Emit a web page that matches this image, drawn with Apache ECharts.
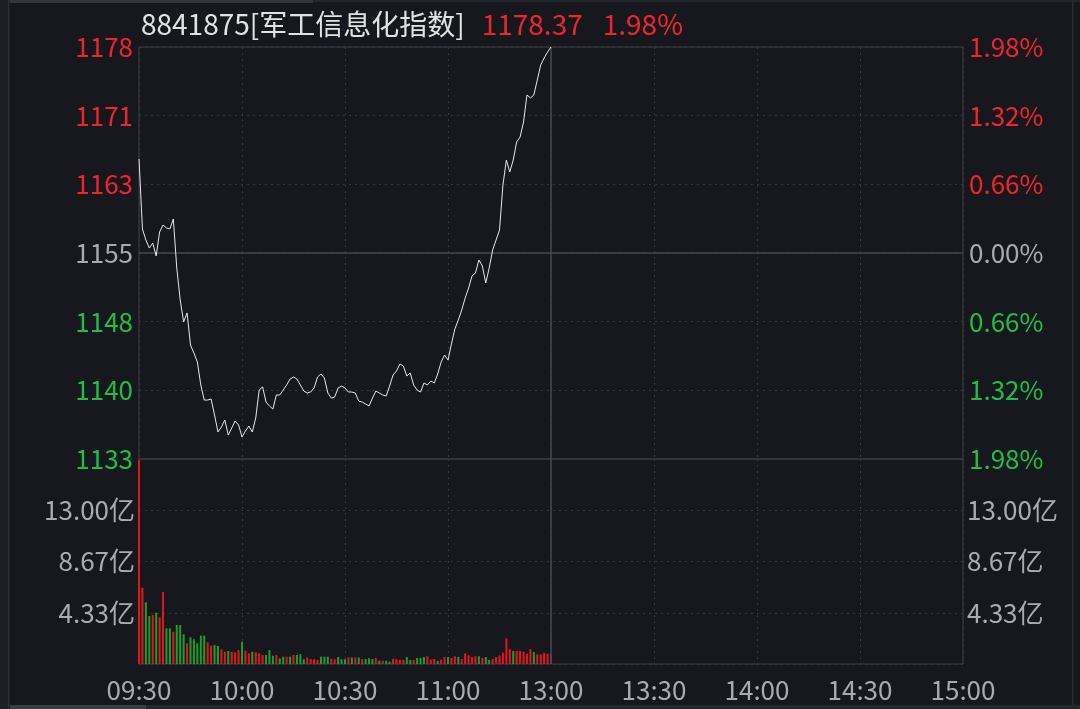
<!DOCTYPE html>
<html>
<head>
<meta charset="utf-8">
<script src="https://cdn.jsdelivr.net/npm/echarts@6/dist/echarts.min.js"></script>
<style>
html,body{margin:0;padding:0;background:#16181d;}
#c{width:1080px;height:709px;}
</style>
</head>
<body>
<div id="c"></div>
<script>
// ---- data ----
const indexCode = '8841875';
const indexName = '军工信息化指数';
const lastPrice = 1178.37;
const lastChangePct = 1.98;
const preClose = 1155.49;
const xTickLabels = ['09:30','10:00','10:30','11:00','13:00','13:30','14:00','14:30','15:00'];
const totalMinutes = 240;
// minute prices 09:30 .. 11:30 (121 points)
const prices = [
1165.93,1158.16,1156.93,1156.04,1156.60,1155.16,1157.82,1158.60,1158.27,1158.16,
1159.27,1153.82,1150.27,1147.83,1148.83,1145.27,1144.38,1143.38,1140.83,1139.16,
1139.16,1139.27,1137.50,1135.61,1136.16,1136.94,1135.27,1136.05,1136.83,1136.39,
1135.05,1135.72,1136.27,1135.61,1137.16,1140.27,1140.61,1138.94,1138.50,1138.16,
1139.72,1139.72,1140.27,1140.83,1141.49,1141.72,1141.49,1140.83,1140.16,1139.94,
1140.05,1140.50,1141.72,1142.05,1141.61,1139.94,1139.38,1139.50,1140.50,1140.72,
1140.50,1140.05,1140.05,1139.94,1139.05,1138.94,1138.72,1138.50,1139.38,1140.16,
1139.94,1139.72,1139.61,1140.72,1141.94,1142.38,1143.16,1142.94,1141.83,1142.16,
1140.83,1140.27,1140.05,1141.05,1140.83,1141.27,1141.05,1142.05,1143.38,1144.16,
1143.60,1145.38,1147.05,1148.05,1149.16,1150.49,1151.60,1152.94,1153.27,1154.71,
1154.05,1152.16,1153.82,1155.82,1156.93,1158.04,1163.04,1165.82,1164.49,1165.82,
1167.82,1168.37,1170.04,1173.04,1172.71,1173.04,1174.70,1176.37,1177.15,1177.81,
1178.37
];
// minute turnover, 亿
const volumes = [
17.25,6.45,5.22,4.06,4.14,4.34,3.95,6.09,3.02,3.02,
2.73,3.30,3.30,2.51,1.75,2.26,2.09,1.75,2.40,2.40,
1.83,1.55,1.61,1.52,1.24,1.04,1.10,1.04,0.99,1.18,
1.89,1.13,0.90,1.04,0.99,0.90,0.76,0.76,1.18,0.70,
0.76,0.48,0.62,0.62,0.62,0.76,0.76,0.82,0.40,0.54,
0.42,0.40,0.34,0.62,0.62,0.62,0.45,0.40,0.59,0.40,
0.40,0.55,0.55,0.57,0.55,0.42,0.42,0.48,0.42,0.51,
0.28,0.28,0.28,0.20,0.42,0.42,0.34,0.34,0.59,0.34,
0.34,0.51,0.51,0.59,0.65,0.37,0.42,0.25,0.37,0.59,
0.59,0.51,0.65,0.59,0.42,0.90,0.73,0.59,0.65,0.65,
0.51,0.59,0.34,0.42,0.59,0.73,0.96,2.17,1.24,1.10,
1.10,1.10,1.04,0.87,1.27,1.01,0.82,0.82,0.96,0.87,
0.80
];
// 1 = up (red), 0 = down (green)
const volUp = [
1,1,0,0,1,0,1,1,0,0,
1,0,0,0,1,0,0,0,0,0,
1,1,0,0,1,1,0,1,1,1,
0,1,1,0,1,1,1,0,0,0,
1,0,0,1,0,1,0,0,0,1,
1,1,1,0,0,0,1,1,0,0,
0,1,0,1,0,1,0,0,0,1,
0,1,0,0,1,1,1,1,0,0,
1,0,0,0,1,1,1,0,1,1,
0,1,1,0,1,1,1,1,1,0,
1,0,0,1,1,1,1,1,1,0,
1,1,1,1,1,0,1,1,1,1,
1
];
const pctRange = 1.98, pctStep = 0.66;
const volMax = 52/3, volStep = 13/3;

// ---- styles ----
const RED = '#f0252c', GREEN = '#1dbf47', GRAY = '#a9abae';
const FONT = '"Noto Sans CJK SC", "Noto Sans", sans-serif';
const GRID_LINE = '#34373d', BORDER = '#3d4046';

const cats = [];
for (let i = 0; i <= totalMinutes; i++) cats.push(String(i));
const pctData = prices.map(p => +(((p / preClose) - 1) * 100).toFixed(4));
const volData = volumes.map((v, i) => ({value: v, itemStyle: {color: volUp[i] ? '#e3161c' : '#1b9f2c'}}));
const tickIdx = i => i % 30 === 0;
const pctColor = v => Math.abs(v) < 1e-6 ? GRAY : (v > 0 ? RED : GREEN);

const L = 139, R = 1080 - 963, T = 47;
const grids = [
  {left: L, right: R, top: T, height: 412, show: true, borderColor: BORDER, borderWidth: 1, backgroundColor: 'transparent'},
  {left: L, right: R, top: 459, height: 205, show: true, borderColor: BORDER, borderWidth: 1, backgroundColor: 'transparent'}
];
const xCommon = {
  type: 'category', data: cats, boundaryGap: false,
  axisLine: {show: false}, axisTick: {show: false},
  splitLine: {show: true, interval: tickIdx, lineStyle: {color: GRID_LINE, type: [2, 4], width: 1}}
};
const option = {
  backgroundColor: '#16181d',
  animation: false,
  textStyle: {fontFamily: FONT},
  title: {
    left: 136, top: 5,
    text: '{n|' + indexCode + '[' + indexName + ']}{p|' + lastPrice.toFixed(2) + '}{q|' + lastChangePct.toFixed(2) + '%}',
    textStyle: {
      fontWeight: 'normal',
      rich: {
        n: {color: '#e2e2e2', fontSize: 28, fontWeight: 'normal', fontFamily: FONT},
        p: {color: RED, fontSize: 28, fontWeight: 'normal', fontFamily: FONT, padding: [0, 0, 0, 17]},
        q: {color: RED, fontSize: 28, fontWeight: 'normal', fontFamily: FONT, padding: [0, 0, 0, 20]}
      }
    }
  },
  grid: grids,
  xAxis: [
    Object.assign({gridIndex: 0, axisLabel: {show: false}}, xCommon),
    Object.assign({gridIndex: 1, axisLabel: {show: true, interval: tickIdx, margin: 13, color: GRAY, fontSize: 26, fontFamily: FONT,
      formatter: (v, i) => xTickLabels[Math.round(+v / 30)] }}, xCommon)
  ],
  yAxis: [
    {gridIndex: 0, type: 'value', min: -pctRange, max: pctRange, interval: pctStep, position: 'left',
     axisLine: {show: false}, axisTick: {show: false},
     axisLabel: {margin: 6, fontSize: 26, fontFamily: FONT, color: pctColor,
       formatter: v => (preClose * (1 + v / 100)).toFixed(0)},
     splitLine: {show: true, lineStyle: {color: GRID_LINE, type: [2, 4]}}},
    {gridIndex: 0, type: 'value', min: -pctRange, max: pctRange, interval: pctStep, position: 'right',
     axisLine: {show: false}, axisTick: {show: false},
     axisLabel: {margin: 6, fontSize: 26, fontFamily: FONT, color: pctColor,
       formatter: v => Math.abs(v).toFixed(2) + '%'},
     splitLine: {show: false}},
    {gridIndex: 1, type: 'value', min: 0, max: volMax, interval: volStep, position: 'left',
     axisLine: {show: false}, axisTick: {show: false},
     axisLabel: {margin: 4, fontSize: 26, fontFamily: FONT, color: GRAY, showMinLabel: false, showMaxLabel: false,
       formatter: v => v.toFixed(2) + '亿'},
     splitLine: {show: true, lineStyle: {color: GRID_LINE, type: [2, 4]}}},
    {gridIndex: 1, type: 'value', min: 0, max: volMax, interval: volStep, position: 'right',
     axisLine: {show: false}, axisTick: {show: false},
     axisLabel: {margin: 4, fontSize: 26, fontFamily: FONT, color: GRAY, showMinLabel: false, showMaxLabel: false,
       formatter: v => v.toFixed(2) + '亿'},
     splitLine: {show: false}}
  ],
  series: [
    {type: 'line', xAxisIndex: 0, yAxisIndex: 0, data: pctData, symbol: 'none', smooth: false,
     lineStyle: {color: '#e8e8e8', width: 1}, z: 5,
     markLine: {silent: true, symbol: 'none', label: {show: false}, animation: false,
       lineStyle: {color: '#45484e', type: 'solid', width: 1.5},
       data: [{yAxis: 0}, {xAxis: '120'}]}},
    {type: 'bar', xAxisIndex: 1, yAxisIndex: 2, data: volData, barWidth: 2,
     markLine: {silent: true, symbol: 'none', label: {show: false}, animation: false,
       lineStyle: {color: '#45484e', type: 'solid', width: 1.5},
       data: [{xAxis: '120'}]}}
  ],
  graphic: [
    {type: 'rect', shape: {x: 0, y: 0, width: 8, height: 709}, style: {fill: '#1c1e23'}, silent: true},
    {type: 'rect', shape: {x: 8, y: 0, width: 1.5, height: 709}, style: {fill: '#2e3035'}, silent: true},
    {type: 'rect', shape: {x: 10, y: 0, width: 303, height: 3}, style: {fill: '#34363b'}, silent: true},
    {type: 'rect', shape: {x: 313, y: 0, width: 767, height: 2}, style: {fill: '#24262b'}, silent: true},
    {type: 'rect', shape: {x: 1072, y: 0, width: 1.5, height: 709}, style: {fill: '#2a2c31'}, silent: true},
    {type: 'rect', shape: {x: 10, y: 705, width: 136, height: 4}, style: {fill: '#3a3c41'}, silent: true},
    {type: 'rect', shape: {x: 146, y: 705, width: 934, height: 4}, style: {fill: '#25272c'}, silent: true}
  ]
};
const chart = echarts.init(document.getElementById('c'), null, {renderer: 'canvas'});
chart.setOption(option);
</script>
</body>
</html>
